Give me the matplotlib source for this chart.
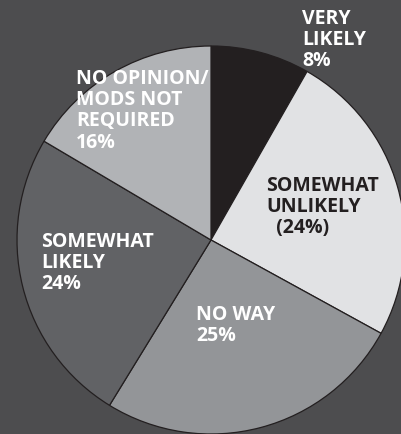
import matplotlib.pyplot as plt

# survey answers, clockwise from 12 o'clock
labels = ["VERY\nLIKELY\n8%", "SOMEWHAT\nUNLIKELY\n  (24%)", "NO WAY\n25%",
          "SOMEWHAT\nLIKELY\n24%", "NO OPINION/\nMODS NOT\nREQUIRED\n16%"]
shares = [8, 24, 25, 24, 16]
colors = ["#231f20", "#e1e2e4", "#939598", "#616265", "#b1b3b6"]
text_colors = ["white", "#231f20", "white", "white", "white"]
# top-left of each label block, in pixels from top-left of the picture
label_pos = [(302, 9), (266, 176), (196, 305), (41, 232), (76, 69)]

W, H = 402, 434
fig = plt.figure(figsize=(W / 100, H / 100), dpi=100)
fig.patch.set_facecolor("#4d4d4f")
ax = fig.add_axes([0, 0, 1, 1])

ax.pie(shares, colors=colors, startangle=90, counterclock=False,
       center=(211, H - 240), radius=194, frame=True,
       wedgeprops=dict(edgecolor="#231f20", linewidth=0.9))
ax.set_xlim(0, W)
ax.set_ylim(0, H)
ax.axis("off")

for lab, (x, y), c in zip(labels, label_pos, text_colors):
    ax.text(x, H - y, lab, ha="left", va="top", color=c, fontsize=14,
            fontweight="bold", family="Open Sans", linespacing=1.08)

fig.savefig("out.png", dpi=100, facecolor=fig.get_facecolor())
